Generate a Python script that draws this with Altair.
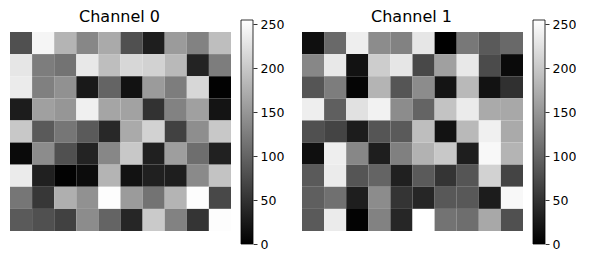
import altair as alt
import pandas as pd

rows = list(range(9))
cols = list(range(10))
titles = ["Channel 0", "Channel 1"]
cbar_ticks = [0, 50, 100, 150, 200, 250]
vmin, vmax = 0, 255

channel0 = [
    [80, 245, 180, 135, 170, 80, 30, 155, 130, 190],
    [230, 125, 115, 232, 190, 215, 210, 185, 35, 125],
    [235, 128, 145, 25, 100, 18, 155, 125, 215, 2],
    [28, 160, 150, 240, 165, 162, 50, 130, 160, 20],
    [200, 90, 118, 90, 40, 170, 210, 65, 142, 200],
    [10, 140, 80, 35, 135, 200, 32, 158, 110, 33],
    [235, 32, 2, 12, 180, 18, 32, 30, 138, 195],
    [118, 55, 175, 145, 253, 155, 115, 180, 253, 72],
    [90, 80, 65, 140, 100, 38, 202, 130, 52, 253],
]
channel1 = [
    [15, 105, 238, 140, 130, 230, 0, 120, 90, 105],
    [135, 232, 18, 205, 230, 72, 160, 232, 75, 10],
    [85, 125, 5, 180, 85, 140, 20, 185, 18, 48],
    [238, 95, 225, 242, 140, 100, 195, 235, 170, 168],
    [80, 68, 28, 85, 90, 190, 18, 185, 240, 170],
    [15, 238, 135, 30, 128, 178, 200, 30, 248, 180],
    [90, 235, 85, 100, 32, 90, 52, 85, 210, 68],
    [95, 112, 30, 140, 52, 38, 88, 88, 28, 248],
    [90, 235, 3, 130, 38, 255, 115, 110, 168, 80],
]

FONT = "DejaVu Sans"


def panel(values, title):
    df = pd.DataFrame(
        [{"row": r, "col": c, "v": values[r][c]} for r in rows for c in cols]
    )
    heat = alt.Chart(df).mark_rect(strokeWidth=0).encode(
        x=alt.X("col:O", axis=None,
                scale=alt.Scale(range=[0, 221], paddingInner=0, paddingOuter=0)),
        y=alt.Y("row:O", axis=None,
                scale=alt.Scale(range=[12, 211], paddingInner=0, paddingOuter=0)),
        color=alt.Color("v:Q", legend=None,
                        scale=alt.Scale(domain=[vmin, vmax],
                                        range=["#000000", "#ffffff"],
                                        interpolate="rgb")),
    )
    cb = alt.Chart(pd.DataFrame({"lo": [vmin], "hi": [vmax]})).mark_rect(
        fill=alt.Gradient(
            gradient="linear",
            stops=[alt.GradientStop(color="#000000", offset=0),
                   alt.GradientStop(color="#ffffff", offset=1)],
            x1=0, x2=0, y1=1, y2=0),
        stroke="black", strokeWidth=0.8,
    ).encode(
        x=alt.value(231), x2=alt.value(243),
        y=alt.Y("lo:Q",
                scale=alt.Scale(domain=[vmin, vmax], nice=False, zero=False),
                axis=alt.Axis(orient="right", values=cbar_ticks, title=None,
                              grid=False, domain=False, tickSize=4,
                              tickColor="black", tickWidth=0.8,
                              labelColor="black", labelFont=FONT,
                              labelFontSize=12.5, labelPadding=3)),
        y2="hi:Q",
    )
    return alt.layer(heat, cb).resolve_scale(
        x="independent", y="independent"
    ).properties(
        width=243, height=224,
        title=alt.TitleParams(text=title, font=FONT, fontSize=16,
                              fontWeight="normal", color="black",
                              anchor="middle", frame="group", dx=-12,
                              offset=0, baseline="alphabetic", dy=20),
    )


chart = alt.hconcat(
    panel(channel0, titles[0]), panel(channel1, titles[1]), spacing=18
).properties(
    padding={"left": 10, "top": 9, "right": 0, "bottom": 0},
    background="white",
).configure_view(stroke=None)

chart.save("out.html", embed_options={"renderer": "svg", "actions": False})
